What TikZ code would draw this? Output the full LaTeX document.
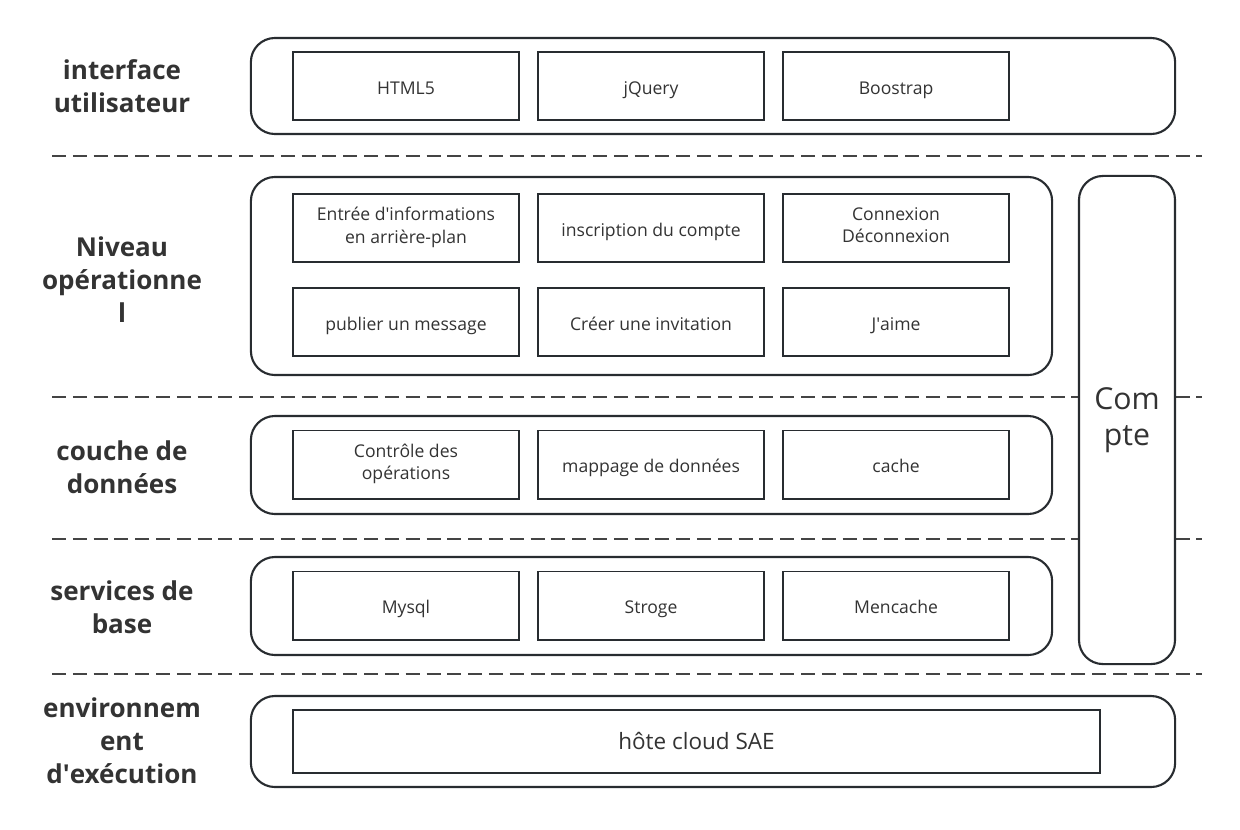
\documentclass[tikz,border=0pt]{standalone}
\usepackage{fontspec}
\setmainfont{Open Sans}
\usetikzlibrary{positioning}
\definecolor{LayerInk}{RGB}{40,44,48}
\definecolor{LayerText}{RGB}{51,51,51}
\definecolor{LayerDash}{RGB}{68,68,68}
\newcommand{\sq}{\textquotesingle}

\begin{document}
\begin{tikzpicture}[
  x=0.025cm, y=-0.025cm,
  group/.style={draw=LayerInk, line width=1.5pt, rounded corners=0.6cm, fill=white},
  item/.style={draw=LayerInk, line width=1.4pt, fill=white, text=LayerText,
    align=center, font=\fontsize{12.5}{16}\selectfont,
    execute at begin node=\rule{0pt}{16pt}, execute at end node=\rule[-4pt]{0pt}{4pt},
    minimum width=5.65cm, minimum height=1.7cm, inner sep=1pt},
  lbl/.style={text=LayerText, align=center, font=\fontsize{18.5}{23.5}\selectfont\bfseries},
  sep/.style={draw=LayerDash, line width=2.1pt, dash pattern=on 0.35cm off 0.17cm}
]
\useasboundingbox[fill=white] (0,0) rectangle (1240,829);

% separators between layers
\foreach \yy in {156,397,539,674}
  \draw[sep] (52,\yy) -- (1202,\yy);

% layer frames
\node[group, minimum width=23.1cm, minimum height=2.4cm] (uiGrp) at (713,86) {};
\node[group, minimum width=20.025cm, minimum height=4.95cm] (opGrp) at (651.5,276) {};
\node[group, minimum width=20.025cm, minimum height=2.45cm] (dataGrp) at (651.5,465) {};
\node[group, minimum width=20.025cm, minimum height=2.45cm] (baseGrp) at (651.5,606) {};
\node[group, minimum width=23.1cm, minimum height=2.275cm] (envGrp) at (713,741.5) {};
\node[group, minimum width=2.4cm, minimum height=12.2cm, text=LayerText, align=center,
  font=\fontsize{21.5}{25.5}\selectfont,
  execute at begin node=\rule{0pt}{24pt}] (compte) at (1127,420) {Com\\pte};

% layer names
\node[lbl] (uiLbl) at (122,86) {interface\\utilisateur};
\node[lbl] (opLbl) at (122,280) {Niveau\\opérationne\\l};
\node[lbl] (dataLbl) at (122,467) {couche de\\données};
\node[lbl] (baseLbl) at (122,607) {services de\\base};
\node[lbl] (envLbl) at (122,741) {environnem\\ent\\d\sq exécution};

% interface utilisateur
\node[item] (html) at (406,86) {HTML5};
\node[item, right=0.425cm of html] (jquery) {jQuery};
\node[item, right=0.425cm of jquery] (bootstrap) {Boostrap};

% niveau operationnel
\node[item] (saisie) at (406,228) {Entrée d\sq informations\\en arrière-plan};
\node[item, right=0.425cm of saisie] (inscr) {inscription du compte};
\node[item, right=0.425cm of inscr] (connex) {Connexion\\Déconnexion};
\node[item, below=0.6cm of saisie] (publier) {publier un message};
\node[item, right=0.425cm of publier] (invit) {Créer une invitation};
\node[item, right=0.425cm of invit] (jaime) {J\sq aime};

% couche de donnees
\node[item] (ctrl) at (406,464.5) {Contrôle des\\opérations};
\node[item, right=0.425cm of ctrl] (mapping) {mappage de données};
\node[item, right=0.425cm of mapping] (cache) {cache};

% services de base
\node[item] (mysql) at (406,605.5) {Mysql};
\node[item, right=0.425cm of mysql] (stroge) {Stroge};
\node[item, right=0.425cm of stroge] (mencache) {Mencache};

% environnement
\node[item, minimum width=20.175cm, minimum height=1.575cm,
  font=\fontsize{16}{20}\selectfont] (sae) at (696.5,741.5) {hôte cloud SAE};
\end{tikzpicture}
\end{document}
